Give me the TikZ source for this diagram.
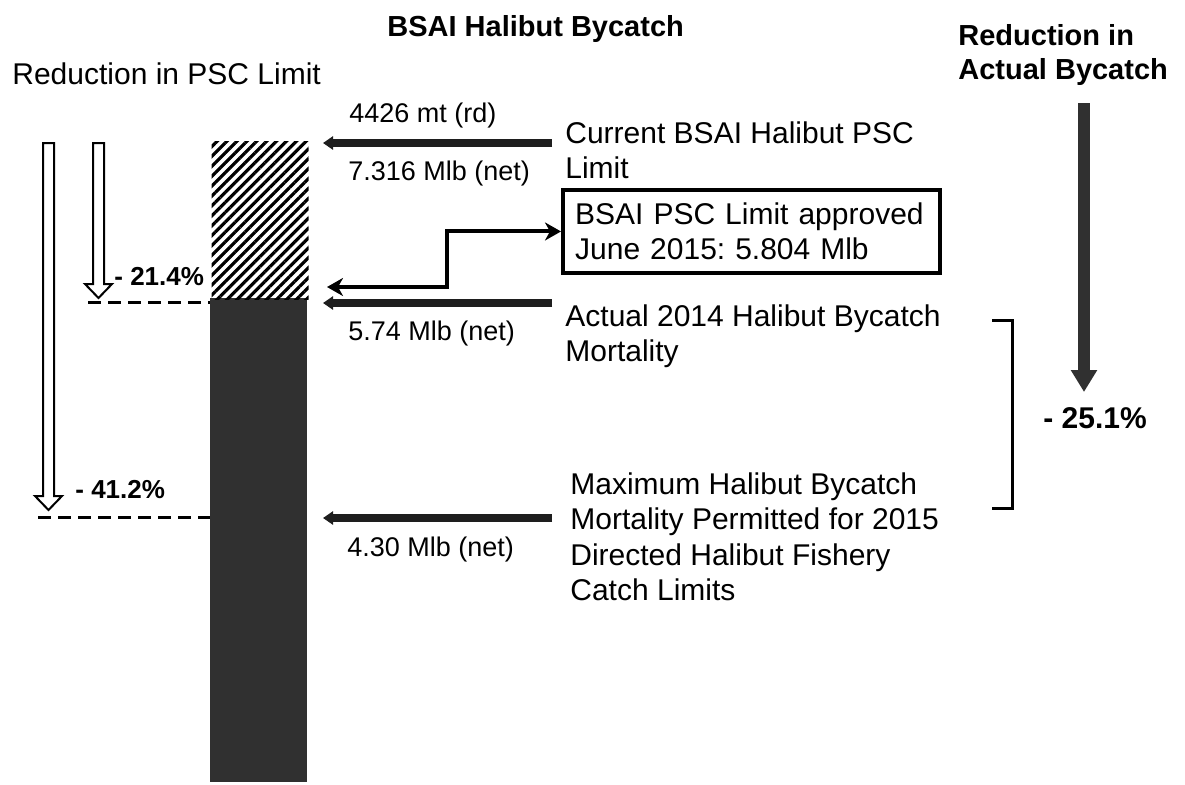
\documentclass[tikz,border=0pt]{standalone}
\usepackage{fontspec}
\setmainfont{Liberation Sans}
\usepackage{tikz}
\usetikzlibrary{calc}
\usetikzlibrary{arrows.meta}
\usetikzlibrary{patterns.meta}
\frenchspacing
\definecolor{bardark}{HTML}{303030}
\definecolor{inkdark}{HTML}{1E1E1E}
\tikzset{
 txt/.style={anchor=west, inner sep=0, align=left, font=\fontsize{15}{17.75}\selectfont},
 small/.style={anchor=west, inner sep=0, font=\fontsize{13.5}{16}\selectfont},
 pct/.style={anchor=west, inner sep=0, font=\fontsize{13}{15}\selectfont\bfseries},
 head/.style={anchor=west, inner sep=0, align=left, font=\fontsize{14.5}{17}\selectfont\bfseries},
 barrow/.style={inkdark, line width=4pt, -{Triangle[width=6.5pt,length=5pt]}},
 dkarrow/.style={bardark, line width=6pt, -{Triangle[width=12.5pt,length=11pt]}},
 elbow/.style={black, line width=2pt, {Stealth[length=8pt,width=9pt,inset=2.5pt]}-{Stealth[length=8pt,width=9pt,inset=2.5pt]}},
 dline/.style={black, line width=1.5pt, dash pattern=on 6.5pt off 3.5pt},
 hollow/.style={black, line width=1pt, fill=white, line join=miter},
}

\begin{document}
\begin{tikzpicture}[x=0.5pt, y=-0.5pt]
\useasboundingbox (0,0) rectangle (1185,784);
\node[head] (title) at (387,29) {BSAI Halibut Bycatch};
\node[txt] (lhead) at (12,74) {Reduction in PSC Limit};
\node[head] (rhead) at (958,55) {Reduction in\\Actual Bycatch};

\node[fill=bardark, inner sep=0, minimum width=48.5pt, minimum height=242pt, anchor=north west] (bar) at (210,298) {};
\node[pattern={Lines[angle=45, distance=3.5pt, line width=1.6pt]}, inner sep=0, minimum width=48.5pt, minimum height=79pt, anchor=north west] (hatch) at (210,140) {};

\foreach \xc/\tip in {48.5/510, 98.5/298} {
 \draw[hollow] (\xc-5.5,143) -- (\xc-5.5,\tip-14) -- (\xc-13.5,\tip-14) -- (\xc,\tip) -- (\xc+13.5,\tip-14) -- (\xc+5.5,\tip-14) -- (\xc+5.5,143) -- cycle;
}
\coordinate (d1) at (88,302);
\coordinate (d2) at (38,517);
\draw[dline] (d1) -- (d1 -| bar.west);
\draw[dline] (d2) -- (d2 -| bar.west);
\node[pct] (p214) at (114,277) {- 21.4\%};
\node[pct] (p412) at (75,490) {- 41.2\%};

\foreach \y/\xs [count=\i] in {143/552, 303/552, 518/552} {
 \coordinate (s\i) at (\xs,\y);
 \coordinate (t\i) at (323,\y);
 \draw[barrow] (s\i) -- (t\i);
}
\node[small] (l4426) at (349,116) {4426 mt (rd)};
\node[small] (l7316) at (348,174) {7.316 Mlb (net)};
\node[small] (l574) at (348,334) {5.74 Mlb (net)};
\node[small] (l430) at (347,549) {4.30 Mlb (net)};

\node[draw, line width=2.2pt, anchor=north west, minimum width=188.5pt, minimum height=41.75pt, inner xsep=6pt, inner ysep=0pt, text width=176.5pt, align=left, font=\fontsize{15}{17.75}\selectfont] (apprbox) at (561,187.5) {BSAI PSC Limit approved\\June 2015: 5.804 Mlb};
\coordinate (e1) at (327,287);
\draw[elbow] (e1) -- (447,287) |- (apprbox.west);

\node[txt] (curtxt) at (565,150) {Current BSAI Halibut PSC\\Limit};
\node[txt] (acttxt) at (565,336) {Actual 2014 Halibut Bycatch\\Mortality};
\node[txt] (maxtxt) at (570,537) {Maximum Halibut Bycatch\\Mortality Permitted for 2015\\Directed Halibut Fishery\\Catch Limits};

\draw[black, line width=1.5pt] (992,320) -- (1012,320) -- (1012,508) -- (992,508);
\coordinate (r0) at (1084,103);
\coordinate (r1) at (1084,392);
\draw[dkarrow] (r0) -- (r1);
\node[pct, font=\fontsize{15}{17}\selectfont\bfseries] (p251) at (1043,418) {- 25.1\%};
\end{tikzpicture}
\end{document}
